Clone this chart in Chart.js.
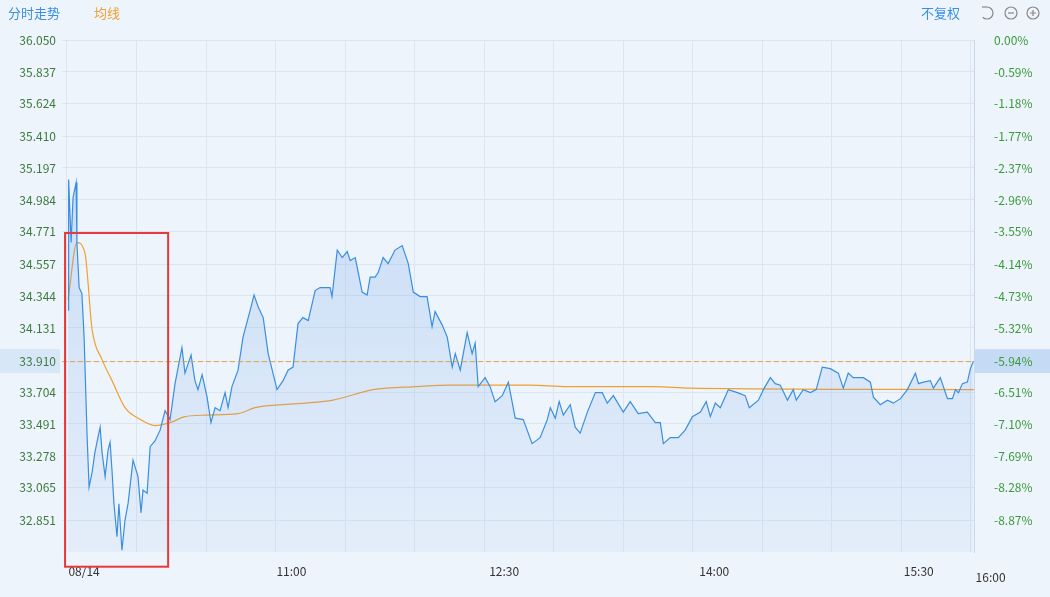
<!DOCTYPE html>
<html><head><meta charset="utf-8">
<script src="https://cdn.jsdelivr.net/npm/chart.js@4/dist/chart.umd.min.js"></script>
<style>html,body{margin:0;padding:0;background:#eef4fb;overflow:hidden;}#c{display:block;}</style>
</head><body><canvas id="c" width="1050" height="597" style="width:1050px;height:597px"></canvas>
<script>
const priceMinutes=[2.2,2.4,3.3,4.0,5.1,5.4,6.2,7.2,8.0,9.1,9.8,10.9,11.9,13.0,13.8,14.5,15.6,16.7,17.4,18.1,18.8,19.9,20.6,21.7,22.8,23.9,25.7,27.5,28.6,29.3,30.8,31.9,33.7,35.5,37.3,39.1,40.9,43.4,44.5,46.7,48.1,49.2,50.7,52.5,53.9,55.4,57.2,59.0,60.1,61.5,63.7,65.5,68.1,69.5,71.0,72.8,74.6,77.8,80.0,81.8,83.6,85.4,87.2,89.1,91.6,93.4,95.2,97.0,97.7,99.6,101.4,103.2,104.3,106.1,107.2,108.6,110.4,111.5,113.3,114.4,116.2,118.0,120.5,123.1,125.3,127.1,129.6,132.1,133.9,135.0,137.6,139.4,141.2,142.3,144.1,146.6,148.4,149.5,150.6,153.1,154.9,156.7,159.3,161.5,164.0,166.9,170.1,173.0,175.6,176.7,178.5,179.9,181.4,183.9,185.7,187.5,190.1,193.0,195.5,197.3,199.5,203.1,205.6,208.5,211.8,214.7,216.5,217.6,220.1,223.0,225.5,228.1,231.0,233.1,234.6,236.4,238.2,241.1,244.4,247.2,248.7,252.0,253.8,256.3,258.1,259.9,262.5,264.6,265.7,268.2,270.8,272.9,275.1,278.0,280.9,282.7,284.5,286.3,290.0,292.5,293.6,296.1,298.7,300.8,303.4,305.9,308.8,309.9,311.7,314.2,315.3,317.8,320.4,322.2,323.3,324.4,325.8,327.6,328.7,329.8];
const priceValues=[34.25,35.12,34.70,35.00,35.10,34.70,34.40,34.36,34.07,33.40,33.07,33.17,33.30,33.40,33.47,33.30,33.14,33.32,33.37,33.18,32.96,32.74,32.96,32.65,32.85,32.96,33.25,33.14,32.90,33.05,33.03,33.34,33.38,33.45,33.58,33.52,33.76,34.00,33.83,33.95,33.78,33.72,33.82,33.67,33.50,33.60,33.58,33.70,33.60,33.74,33.85,34.07,34.25,34.35,34.27,34.20,33.96,33.72,33.78,33.85,33.87,34.16,34.20,34.18,34.38,34.40,34.40,34.40,34.34,34.65,34.60,34.64,34.58,34.60,34.50,34.37,34.35,34.47,34.47,34.50,34.60,34.56,34.65,34.68,34.56,34.37,34.34,34.34,34.14,34.24,34.15,34.07,33.87,33.96,33.85,34.10,33.96,34.03,33.74,33.80,33.74,33.64,33.68,33.77,33.53,33.52,33.36,33.40,33.52,33.60,33.53,33.64,33.55,33.62,33.47,33.43,33.57,33.70,33.70,33.63,33.68,33.57,33.64,33.56,33.57,33.50,33.50,33.36,33.40,33.40,33.45,33.54,33.57,33.64,33.54,33.63,33.60,33.72,33.70,33.68,33.60,33.65,33.72,33.80,33.76,33.75,33.65,33.72,33.65,33.72,33.70,33.72,33.87,33.86,33.83,33.73,33.83,33.80,33.80,33.77,33.67,33.62,33.65,33.63,33.66,33.72,33.83,33.76,33.77,33.78,33.73,33.80,33.66,33.66,33.72,33.70,33.76,33.77,33.86,33.91];
const avgMinutes=[2.2,5.4,8.3,10.9,14.5,18.1,22.8,27.5,33.7,39.1,44.5,51.8,63.7,69.9,79.6,88.0,98.1,112.6,128.5,140.5,169.4,182.8,213.9,227.3,330];
const avgValues=[34.32,34.70,34.63,34.12,33.92,33.78,33.60,33.53,33.48,33.50,33.54,33.55,33.56,33.60,33.62,33.63,33.65,33.72,33.74,33.75,33.75,33.74,33.74,33.73,33.72];
const yTicks=[36.050,35.837,35.624,35.410,35.197,34.984,34.771,34.557,34.344,34.131,33.910,33.704,33.491,33.278,33.065,32.851];
const pctTicks=['0.00%','-0.59%','-1.18%','-1.77%','-2.37%','-2.96%','-3.55%','-4.14%','-4.73%','-5.32%','-5.94%','-6.51%','-7.10%','-7.69%','-8.28%','-8.87%'];
const xLabelMinutes=[8,83,160,236,310];
const xLabels=['08/14','11:00','12:30','14:00','15:30'];
const lastLabel={m:336,text:'16:00'};
const yMin=32.638,yMax=36.050,refPrice=33.910;
const boxRange={x0:1.1,x1:38.4,yTop:34.764,yBot:32.54};

const FONT='"Microsoft YaHei","Noto Sans CJK SC",sans-serif';
const gridX=[];for(let i=0;i<14;i++)gridX.push(1.8+i*25.16);

const overlay={id:'overlay',
 beforeDraw(ch){const c=ch.ctx,a=ch.chartArea,y=ch.scales.y;
  const py=y.getPixelForValue(refPrice);
  c.save();c.fillStyle='#c5dbf5';c.fillRect(a.right+1,py-12,1050-a.right,24);c.fillStyle='#d8e7f8';c.fillRect(0,py-12,a.left-2,24);c.restore();},
 afterDatasetsDraw(ch){const c=ch.ctx,a=ch.chartArea,x=ch.scales.x,y=ch.scales.y;
  c.save();
  const py=y.getPixelForValue(refPrice);
  c.strokeStyle='#e8a040';c.setLineDash([5,3]);c.lineWidth=1;c.beginPath();c.moveTo(a.left,py+0.5);c.lineTo(a.right,py+0.5);c.stroke();c.setLineDash([]);
  const bx0=x.getPixelForValue(boxRange.x0),bx1=x.getPixelForValue(boxRange.x1),by0=y.getPixelForValue(boxRange.yTop),by1=y.getPixelForValue(boxRange.yBot);
  c.strokeStyle='#e8383a';c.lineWidth=2;c.strokeRect(bx0,by0,bx1-bx0,by1-by0);
  c.font='12px '+FONT;c.fillStyle='#333';c.textAlign='center';c.textBaseline='middle';
  c.fillText(lastLabel.text,x.getPixelForValue(lastLabel.m),577);
  c.font='13px '+FONT;c.textAlign='left';c.fillStyle='#3a8ee6';c.fillText('分时走势',8,13);
  c.fillStyle='#f0a030';c.fillText('均线',94,13);
  c.fillStyle='#3a8ee6';c.fillText('不复权',921,13);
  c.strokeStyle='#888';c.lineWidth=1.2;
  c.beginPath();c.arc(1011,13,6,0,Math.PI*2);c.stroke();c.beginPath();c.moveTo(1008,13);c.lineTo(1014,13);c.stroke();
  c.beginPath();c.arc(1033,13,6,0,Math.PI*2);c.stroke();c.beginPath();c.moveTo(1030,13);c.lineTo(1036,13);c.moveTo(1033,10);c.lineTo(1033,16);c.stroke();
  c.beginPath();c.arc(987,13,6,-Math.PI/2,Math.PI*0.75);c.stroke();c.beginPath();c.moveTo(982,7);c.lineTo(987,7);c.stroke();
  c.restore();}};

new Chart(document.getElementById('c'),{type:'line',
 data:{datasets:[
  {data:priceMinutes.map((m,i)=>({x:m,y:priceValues[i]})),borderColor:'#3a8ee0',borderWidth:1.2,pointRadius:0,tension:0,
   fill:'start',backgroundColor:(ctx)=>{const a=ctx.chart.chartArea;if(!a)return 'rgba(120,170,235,0.2)';const g=ctx.chart.ctx.createLinearGradient(0,a.top,0,a.bottom);g.addColorStop(0,'rgba(110,165,235,0.35)');g.addColorStop(1,'rgba(110,165,235,0.08)');return g;}},
  {data:avgMinutes.map((m,i)=>({x:m,y:avgValues[i]})),borderColor:'#f0a030',borderWidth:1.2,pointRadius:0,fill:false,cubicInterpolationMode:'monotone'}
 ]},
 options:{responsive:false,animation:false,devicePixelRatio:1,
  layout:{padding:{top:40,right:0,left:0,bottom:0}},
  plugins:{legend:{display:false},tooltip:{enabled:false}},
  scales:{
   x:{type:'linear',min:0,max:330,
    afterFit(s){s.height=45;},
    afterBuildTicks(s){s.ticks=gridX.map(v=>({value:v,g:1})).concat(xLabelMinutes.map((v,i)=>({value:v,label:xLabels[i]})));},
    ticks:{autoSkip:false,maxRotation:0,color:'#333',font:{size:12,family:FONT},padding:12,callback(v,i,t){return t[i].label||'';}},
    grid:{color:(c)=>c.tick&&c.tick.g?'#dbe6f3':'rgba(0,0,0,0)',drawTicks:false},border:{display:false}},
   y:{position:'left',min:yMin,max:yMax,
    afterFit(s){s.width=62;},
    afterBuildTicks(s){s.ticks=yTicks.map(v=>({value:v}));},
    ticks:{autoSkip:false,color:'#3d7a3d',font:{size:12,family:FONT},padding:6,callback:(v)=>v.toFixed(3)},
    grid:{color:'#dbe6f3',drawTicks:false},border:{display:false}},
   y2:{position:'right',min:yMin,max:yMax,
    afterFit(s){s.width=76;},
    afterBuildTicks(s){s.ticks=yTicks.map(v=>({value:v}));},
    ticks:{autoSkip:false,color:'#3c9a3c',font:{size:12,family:FONT},padding:12,callback:(v,i)=>pctTicks[i]},
    grid:{display:false},border:{display:true,color:'#c8d8ea'}}
  }},
 plugins:[overlay]});
</script></body></html>
